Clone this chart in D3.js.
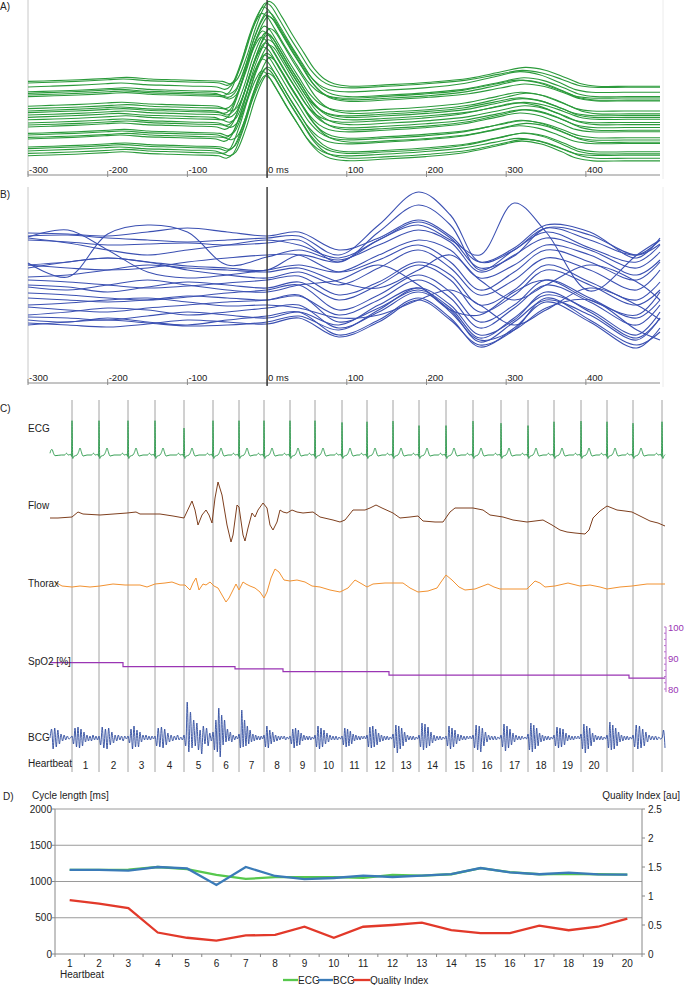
<!DOCTYPE html>
<html><head><meta charset="utf-8">
<script src="https://cdn.jsdelivr.net/npm/d3@7"></script>
<style>body{margin:0;background:#fff}svg{display:block}text{font-family:"Liberation Sans",Arial,sans-serif;fill:#222}</style>
</head><body><svg id="c" width="685" height="985"></svg>
<script>
// ---------- Panel A: averaged ECG beats (template in mV, per-beat baseline offsets) ----------
const aTimes = [-300,-270,-240,-200,-180,-150,-120,-90,-60,-50,-42,-30,-18,-8,-2,4,15,28,42,55,68,80,100,150,200,250,290,320,345,370,390,410,450,493];
const aTemplate = [0,0.01,0.02,0.04,0.05,0.03,0.02,0.01,0,-0.03,0.02,0.3,0.68,0.92,1.0,0.97,0.8,0.58,0.36,0.16,0.03,-0.03,-0.06,-0.04,-0.01,0.04,0.12,0.175,0.14,0.05,-0.03,-0.06,-0.06,-0.06];
const aBaselines = [1.17,1.15,1.10,1.04,1.02,1.0,0.98,0.86,0.83,0.80,0.78,0.75,0.72,0.69,0.65,0.625,0.60,0.52,0.50,0.47,0.45,0.35,0.33,0.30,0.27,0.24];
const aShifts = [4,0,-3,2,-5,1,3,-2,5,-4,0,2,-6,3,-1,4,-3,1,-2,5,-4,2,0,-5,3,-1];
const aTAmp = [1.0,0.9,1.1,1.0,0.95,1.05,0.9,1.0,1.1,0.95,1.0,0.9,1.05,1.0,0.95,1.1,1.0,0.9,1.05,1.0,0.95,1.0,1.1,0.9,1.0,1.05];
const msTicks = [-300,-200,-100,0,100,200,300,400];
const msTickLabels = ["-300","-200","-100","0 ms","100","200","300","400"];

// ---------- Panel B: averaged BCG beats ----------
const bTimes = [-300,-250,-200,-150,-100,-50,0,40,90,140,190,230,267,310,350,405,464,493];
const bCurves = [
 [164,165,162,160,158,160,162,164,145,175,208,185,138,150,172,160,145,160],
 [135,138,142,138,134,132,130,145,138,160,175,160,145,197,168,109,145,160],
 [160,158,155,156,157,155,157,160,138,168,195,175,130,150,168,152,138,155],
 [167,166,164,168,172,168,164,168,150,162,180,164,138,152,175,168,142,162],
 [162,157,150,145,150,155,160,155,142,160,178,162,132,144,172,165,145,156],
 [163,170,150,128,122,125,130,135,128,145,160,150,122,135,155,145,125,140],
 [137,123,166,175,168,135,143,150,140,155,170,158,128,145,162,150,132,148],
 [135,132,130,132,138,142,145,145,128,140,155,138,110,128,150,138,120,138],
 [132,138,142,138,130,125,122,128,115,132,150,132,105,120,142,130,110,130],
 [123,125,130,135,132,130,128,132,118,112,130,145,120,100,115,135,118,100],
 [120,118,115,112,114,117,120,124,105,118,138,125,95,110,135,118,100,118],
 [115,113,108,113,118,115,112,118,100,115,135,120,88,105,130,115,95,110],
 [113,110,115,120,115,110,108,115,120,135,115,90,85,108,120,100,85,108],
 [107,105,102,100,103,107,110,115,90,105,125,108,78,95,120,102,82,100],
 [102,100,98,100,104,102,100,104,85,100,120,102,72,92,115,98,75,95],
 [95,97,100,102,98,94,95,92,82,85,100,110,95,75,90,112,95,80],
 [93,90,88,92,95,98,100,105,78,92,110,92,62,82,105,90,65,88],
 [85,88,92,90,85,88,92,95,72,88,108,90,58,78,100,85,60,82],
 [83,82,80,84,88,85,82,88,75,95,112,88,60,70,92,100,70,60],
 [80,78,82,78,75,80,84,88,65,80,102,82,53,72,98,78,52,72],
 [77,75,73,76,80,78,76,82,63,78,100,80,55,70,102,80,55,68],
 [75,78,80,77,74,75,78,84,70,90,112,95,65,80,108,88,62,82]
];

// ---------- Panel C: raw signals (time in s) ----------
const rPeaks = [0.88,1.96,3.12,4.2,5.36,6.52,7.56,8.56,9.6,10.6,11.68,12.68,13.72,14.76,15.84,16.92,18.04,19.12,20.16,21.24,22.28,23.32,24.48];
const rAmp = [0.98,0.98,0.98,0.98,0.77,0.98,0.98,0.98,0.98,0.98,0.93,0.95,0.97,0.84,0.84,0.97,0.91,0.84,0.95,0.97,0.95,0.91,0.95];
const ecgLead = [[0,0.05],[0.04,0.14],[0.08,0.16],[0.14,0.05],[0.2,-0.02],[0.45,0]];
const ecgTemplate = [[-0.30,0.0],[-0.22,0.05],[-0.15,0.0],[-0.05,0.02],[-0.02,-0.04],[0,1],[0.03,-0.1],[0.07,-0.04],[0.2,0.0],[0.27,0.1],[0.32,0.2],[0.37,0.1],[0.44,-0.03],[0.6,0.0]];
const flow = [[0,0],[0.32,0],[0.88,1],[1.12,6],[1.32,4],[2.0,3],[3.08,5],[3.44,6],[3.6,4],[4.4,4],[4.92,2],[5.36,0],[5.68,17],[5.8,8],[5.92,-7],[6.08,3],[6.24,8],[6.36,3],[6.48,-5],[6.6,20],[6.72,36],[6.88,23],[7.08,-7],[7.24,-24],[7.32,-17],[7.48,13],[7.56,11],[7.72,-17],[7.8,-23],[7.92,-10],[8.08,5],[8.2,1],[8.32,8],[8.52,15],[8.68,10],[8.8,-7],[8.92,-12],[9.08,-4],[9.2,8],[9.32,6],[9.48,5],[9.68,8],[9.88,6],[10.12,5],[10.52,6],[10.8,1],[11.32,-2],[11.6,-4],[11.8,-2],[12.12,8],[12.6,8],[12.8,10],[13.04,13],[13.28,10],[13.72,5],[14.0,0],[14.4,1],[14.72,2],[14.92,-3],[15.4,-4],[15.72,-4],[16.0,6],[16.2,10],[16.6,10],[16.92,10],[17.32,8],[17.6,3],[18.12,1],[18.52,-2],[19.08,-4],[19.4,-3],[19.72,-2],[20.08,-7],[20.4,-12],[20.68,-14],[21.0,-15],[21.4,-16],[21.56,-12],[21.72,0],[22.0,7],[22.28,12],[22.48,10],[22.68,8],[23.0,7],[23.28,6],[23.6,2],[24.0,-3],[24.32,-5],[24.6,-8]];
const thorax = [[0.2,3],[0.48,-1],[0.88,-2],[1.2,-1],[1.6,-2],[2.0,-1],[2.52,1],[3.0,0],[3.6,0],[3.88,-2],[4.2,1],[4.6,2],[4.88,3],[5.2,0],[5.4,0],[5.6,-5],[5.72,2],[5.84,7],[5.96,-5],[6.12,1],[6.24,0],[6.4,3],[6.56,-1],[6.72,-3],[6.88,-10],[7.04,-17],[7.16,-13],[7.32,-5],[7.44,1],[7.56,-5],[7.72,3],[7.84,1],[8.0,-1],[8.2,-3],[8.4,-7],[8.56,-13],[8.68,-7],[8.84,7],[9.0,16],[9.16,13],[9.36,5],[9.6,4],[9.88,5],[10.2,3],[10.48,-1],[10.8,-2],[11.2,-5],[11.6,-7],[11.92,-3],[12.2,5],[12.48,1],[12.68,-2],[12.92,1],[13.4,2],[13.8,2],[14.12,2],[14.4,-3],[14.72,-7],[15.12,-6],[15.48,-3],[15.64,3],[15.84,10],[16.08,5],[16.36,-2],[16.6,-5],[17.0,-4],[17.52,1],[17.76,-2],[18.0,-4],[18.6,-4],[19.08,-4],[19.4,4],[19.6,2],[19.8,-2],[20.2,-1],[20.72,2],[21.2,-1],[21.6,0],[22.0,-2],[22.28,-4],[22.8,-2],[23.28,-1],[23.88,1],[24.6,1]];
const spo2 = [[0,88.5],[2.92,87.2],[7.4,86.5],[9.32,85.6],[13.56,84.5],[23.16,83.5],[24.6,83.5]];
const spo2Ticks = [80,90,100];
const bcgPre = [0,9,-11,10,-9,8,-6,4,-3,3,-2,2,-1,0];
const bcgBeats = [
 [2,-6,10,-9,11,-10,9,-8,6,-4,3,-3,2,-3,3,-2,2,-2],
 [2,-7,11,-10,9,-11,10,-7,6,-5,3,-3,3,-2,2,-3,2,-1],
 [2,-5,9,-11,12,-9,8,-9,6,-4,3,-2,3,-2,2,-2,2,-1],
 [2,-8,10,-9,11,-10,9,-7,5,-4,3,-3,2,-2,3,-2,1,-2],
 [3,-8,36,-14,26,-10,18,-8,15,-12,8,-16,12,-6,10,-8,5,-3],
 [6,-12,18,-14,30,-19,23,-7,18,-4,9,-3,6,-4,3,-2,2,-1],
 [4,-10,28,-9,18,-8,12,-6,8,-4,4,-3,3,-2,2,-2,2,-1],
 [3,-9,12,-10,8,-6,6,-4,3,-3,2,-2,2,-1,2,-2,1,-1],
 [2,-6,9,-10,10,-8,8,-7,5,-3,3,-2,2,-2,2,-2,1,-1],
 [3,-9,12,-11,10,-9,8,-6,5,-4,3,-2,2,-2,2,-2,1,-1],
 [2,-7,10,-9,9,-8,7,-6,4,-3,3,-2,2,-2,2,-1,2,-1],
 [3,-9,11,-10,12,-9,9,-7,5,-4,3,-3,2,-2,2,-2,1,-1],
 [4,-10,13,-15,12,-11,10,-8,6,-4,3,-2,2,-2,2,-2,1,-1],
 [3,-9,15,-12,14,-10,11,-8,6,-5,3,-3,2,-2,2,-2,1,-1],
 [2,-8,12,-11,10,-9,8,-6,4,-3,3,-2,2,-2,2,-1,2,-1],
 [3,-10,13,-12,12,-14,10,-8,6,-4,3,-2,2,-2,2,-2,1,-1],
 [3,-9,14,-13,12,-10,9,-7,5,-4,3,-2,2,-2,2,-1,1,-1],
 [4,-12,15,-14,13,-11,10,-8,5,-4,3,-3,2,-2,2,-2,1,-1],
 [3,-8,11,-10,10,-9,9,-7,5,-3,3,-2,2,-2,2,-1,2,-1],
 [4,-11,14,-15,12,-11,10,-8,5,-4,3,-2,2,-2,2,-2,1,-1],
 [3,-10,16,-12,13,-11,10,-8,6,-4,3,-3,2,-2,2,-2,1,-1],
 [3,-9,13,-11,12,-10,9,-8,6,-4,3,-2,2,-2,2,-2,1,-1]
];
const bcgPost = [0,8,-10];
const heartbeatLabels = ["1","2","3","4","5","6","7","8","9","10","11","12","13","14","15","16","17","18","19","20"];

// ---------- Panel D ----------
const beats = [1,2,3,4,5,6,7,8,9,10,11,12,13,14,15,16,17,18,19,20];
const cycleECG = [1160,1160,1165,1200,1170,1090,1035,1060,1060,1060,1050,1090,1080,1100,1185,1130,1100,1105,1100,1095];
const cycleBCG = [1160,1160,1150,1200,1180,952,1200,1076,1034,1048,1080,1062,1080,1103,1186,1125,1100,1122,1099,1094];
const qualityIdx = [0.93,0.87,0.79,0.37,0.28,0.23,0.32,0.33,0.47,0.28,0.47,0.50,0.54,0.41,0.36,0.36,0.49,0.41,0.47,0.61];
const leftTicks = [0,500,1000,1500,2000];
const rightTicks = [0,0.5,1,1.5,2,2.5];

// ================= drawing =================
const svg = d3.select("#c");
const txt = (x,y,s,opt={}) => svg.append("text").attr("x",x).attr("y",y).text(s)
  .attr("font-size",opt.size||10).attr("text-anchor",opt.anchor||"start")
  .style("fill",opt.fill||"#222").attr("dominant-baseline",opt.db||"auto");

// ----- Panel A -----
const xA = d3.scaleLinear().domain([-300,493]).range([28,660]);
const yA = d3.scaleLinear().domain([0,2.1875]).range([175,0]);
const xB = xA.copy();
const yB = d3.scaleLinear().domain([17,213]).range([383,187]);

function timeAxis(y, yTop){
  svg.append("line").attr("x1",xA(-300)).attr("x2",xA(-300)).attr("y1",yTop).attr("y2",y).attr("stroke","#c8c8c8");
  svg.append("line").attr("x1",663).attr("x2",663).attr("y1",yTop).attr("y2",y+4).attr("stroke","#ececec");
  svg.append("line").attr("x1",xA(-300)).attr("x2",660).attr("y1",y).attr("y2",y).attr("stroke","#8a8a8a");
  msTicks.forEach((t,i)=>{
    svg.append("line").attr("x1",xA(t)).attr("x2",xA(t)).attr("y1",y-4).attr("y2",y+2).attr("stroke","#8a8a8a");
    txt(xA(t)+1,y-2,msTickLabels[i],{size:9.5});
  });
}
timeAxis(175,0);
const lineA = d3.line().x(d=>xA(d[0])).y(d=>yA(d[1])).curve(d3.curveCatmullRom);
const gA = svg.append("g");
aBaselines.forEach((b,i)=>{
  const pts = aTimes.map((t,j)=>{
    const tt = (j===0||j===aTimes.length-1)?t:Math.max(-300,Math.min(493,t+aShifts[i]));
    const v = t>150 ? aTemplate[j]*aTAmp[i] : aTemplate[j];
    return [tt,b+v];
  });
  gA.append("path").attr("d",lineA(pts)).attr("fill","none").attr("stroke","#2b9a3b").attr("stroke-width",1.1);
});
svg.append("line").attr("x1",xA(0)).attr("x2",xA(0)).attr("y1",0).attr("y2",178).attr("stroke","#333").attr("stroke-width",1.4);
txt(0,10,"A)");

// ----- Panel B -----
timeAxis(383,187);
const lineB = d3.line().x((d,i)=>xB(bTimes[i])).y(d=>yB(d)).curve(d3.curveCatmullRom);
bCurves.forEach(c=>{
  svg.append("path").attr("d",lineB(c)).attr("fill","none").attr("stroke","#3b50b2").attr("stroke-width",1.1);
});
svg.append("line").attr("x1",xB(0)).attr("x2",xB(0)).attr("y1",187).attr("y2",386).attr("stroke","#333").attr("stroke-width",1.4);
txt(0,198,"B)");

// ----- Panel C -----
const xC = d3.scaleLinear().domain([0,24.6]).range([50,665]);
rPeaks.forEach(t=>{
  svg.append("line").attr("x1",xC(t)).attr("x2",xC(t)).attr("y1",400).attr("y2",772).attr("stroke","#a2a2a2").attr("stroke-width",1);
});
txt(0,412,"C)");
// ECG
const yECG = d3.scaleLinear().domain([0,1]).range([455,420]);
let ecgPts = ecgLead.slice();
rPeaks.forEach((r,i)=>{
  ecgTemplate.forEach(p=>{
    const t = r+p[0];
    if(t>ecgPts[ecgPts.length-1][0] && t<=24.6) ecgPts.push([t, p[0]===0 ? rAmp[i] : p[1]]);
  });
});
ecgPts.push([24.6,0.01]);
svg.append("path").attr("d",d3.line().x(d=>xC(d[0])).y(d=>yECG(d[1])).curve(d3.curveMonotoneX)(ecgPts))
  .attr("fill","none").attr("stroke","#39a057").attr("stroke-width",1);
txt(28,432,"ECG");
// Flow
const yFlow = d3.scaleLinear().domain([0,40]).range([518,478]);
svg.append("path").attr("d",d3.line().x(d=>xC(d[0])).y(d=>yFlow(d[1]))(flow))
  .attr("fill","none").attr("stroke","#7e3f1e").attr("stroke-width",1);
txt(28,509,"Flow");
// Thorax
const yTh = d3.scaleLinear().domain([0,20]).range([585,565]);
svg.append("path").attr("d",d3.line().x(d=>xC(d[0])).y(d=>yTh(d[1]))(thorax))
  .attr("fill","none").attr("stroke","#f29231").attr("stroke-width",1);
txt(28,587,"Thorax");
// SpO2
const ySp = d3.scaleLinear().domain([80,100]).range([689,627]);
svg.append("path").attr("d",d3.line().x(d=>xC(d[0])).y(d=>ySp(d[1])).curve(d3.curveStepAfter)(spo2))
  .attr("fill","none").attr("stroke","#9a35b4").attr("stroke-width",1.2);
svg.append("line").attr("x1",666).attr("x2",666).attr("y1",ySp(100)).attr("y2",ySp(79)).attr("stroke","#b870cc").attr("stroke-width",1);
d3.range(80,101,2).forEach(v=>{
  svg.append("line").attr("x1",664).attr("x2",666).attr("y1",ySp(v)).attr("y2",ySp(v)).attr("stroke","#b870cc");
});
spo2Ticks.forEach(v=>txt(668,ySp(v)+4,String(v),{fill:"#9a35b4",size:9.5}));
txt(28,665,"SpO2 [%]");
// BCG
const yBCG = d3.scaleLinear().domain([0,30]).range([738,708]);
let bcgPts = [];
bcgPre.forEach((v,k)=>bcgPts.push([rPeaks[0]*k/bcgPre.length, v]));
bcgBeats.forEach((arr,i)=>{
  const t0 = rPeaks[i], t1 = rPeaks[i+1];
  arr.forEach((v,k)=>bcgPts.push([t0+(t1-t0)*k/arr.length, v]));
});
bcgPost.forEach((v,k)=>bcgPts.push([rPeaks[22]+(24.6-rPeaks[22])*k/(bcgPost.length-1), v]));
svg.append("path").attr("d",d3.line().x(d=>xC(d[0])).y(d=>yBCG(d[1])).curve(d3.curveCatmullRom)(bcgPts))
  .attr("fill","none").attr("stroke","#2e4b9e").attr("stroke-width",0.9);
txt(28,741,"BCG");
txt(28,767,"Heartbeat");
heartbeatLabels.forEach((s,i)=>txt(xC((rPeaks[i]+rPeaks[i+1])/2),769,s,{anchor:"middle"}));

// ----- Panel D -----
const xD = d3.scaleBand().domain(beats).range([55,642]);
const yL = d3.scaleLinear().domain([0,2000]).range([954,809]);
const yR = d3.scaleLinear().domain([0,2.5]).range([954,809]);
leftTicks.forEach(v=>{
  if(v>0) svg.append("line").attr("x1",55).attr("x2",642).attr("y1",yL(v)).attr("y2",yL(v)).attr("stroke","#9a9a9a");
  svg.append("line").attr("x1",52).attr("x2",55).attr("y1",yL(v)).attr("y2",yL(v)).attr("stroke","#888");
  txt(52,yL(v)+3.5,String(v),{anchor:"end"});
});
svg.append("line").attr("x1",55).attr("x2",55).attr("y1",809).attr("y2",954).attr("stroke","#888");
svg.append("line").attr("x1",642).attr("x2",642).attr("y1",809).attr("y2",954).attr("stroke","#888");
rightTicks.forEach(v=>{
  svg.append("line").attr("x1",642).attr("x2",645).attr("y1",yR(v)).attr("y2",yR(v)).attr("stroke","#888");
  txt(648,yR(v)+3.5,String(v));
});
svg.append("line").attr("x1",55).attr("x2",642).attr("y1",954).attr("y2",954).attr("stroke","#888");
beats.forEach(b=>{
  const x0 = xD(b);
  svg.append("line").attr("x1",x0).attr("x2",x0).attr("y1",954).attr("y2",957).attr("stroke","#888");
  txt(x0+xD.bandwidth()/2,967,String(b),{anchor:"middle"});
});
svg.append("line").attr("x1",642).attr("x2",642).attr("y1",954).attr("y2",957).attr("stroke","#888");
const cx = b=>xD(b)+xD.bandwidth()/2;
const lineL = d3.line().x((d,i)=>cx(beats[i])).y(d=>yL(d));
const lineR = d3.line().x((d,i)=>cx(beats[i])).y(d=>yR(d));
svg.append("path").attr("d",lineL(cycleECG)).attr("fill","none").attr("stroke","#57c84d").attr("stroke-width",2.3);
svg.append("path").attr("d",lineL(cycleBCG)).attr("fill","none").attr("stroke","#3a7bb8").attr("stroke-width",2.3);
svg.append("path").attr("d",lineR(qualityIdx)).attr("fill","none").attr("stroke","#e2392a").attr("stroke-width",2.3);
txt(3,800,"D)");
txt(32,799,"Cycle length [ms]");
txt(680,799,"Quality Index [au]",{anchor:"end"});
txt(60,978,"Heartbeat");
// legend
const legend = [["ECG","#57c84d",283,298],["BCG","#3a7bb8",318,333],["Quality Index","#e2392a",353,370]];
legend.forEach(l=>{
  svg.append("line").attr("x1",l[2]).attr("x2",l[3]).attr("y1",980).attr("y2",980).attr("stroke",l[1]).attr("stroke-width",2.3);
  txt(l[3],983.5,l[0]);
});
</script></body></html>
